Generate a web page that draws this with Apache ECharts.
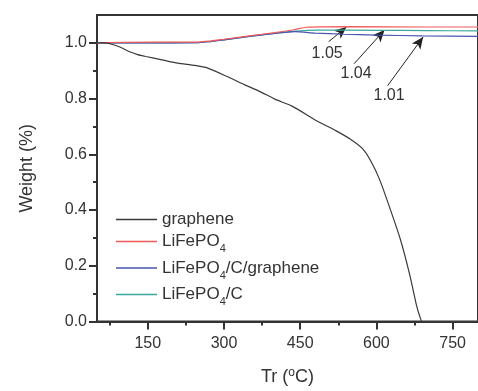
<!DOCTYPE html>
<html>
<head>
<meta charset="utf-8">
<script src="https://cdn.jsdelivr.net/npm/echarts@6/dist/echarts.min.js"></script>
<style>
  html, body { margin: 0; padding: 0; background: #fff; }
  #chart { width: 478px; height: 391px; }
</style>
</head>
<body>
<div id="chart"></div>
<script>
// temperature (°C) / weight fraction pairs
const graphene = [
  [50, 1.0], [65, 1.0], [79, 0.995], [95, 0.985], [113, 0.969], [130, 0.958],
  [146, 0.951], [178, 0.939], [209, 0.927], [242, 0.919], [267, 0.91],
  [305, 0.88], [340, 0.85], [370, 0.826], [400, 0.798], [434, 0.773],
  [484, 0.719], [520, 0.685], [549, 0.654], [574, 0.618], [589, 0.576],
  [606, 0.511], [625, 0.415], [647, 0.296], [666, 0.165], [679, 0.058],
  [686, 0.015], [690, 0], [800, 0]
];
const lfp = [
  [50, 1.0], [100, 1.002], [250, 1.003], [270, 1.006], [300, 1.013], [350, 1.025],
  [400, 1.037], [440, 1.048], [462, 1.056], [550, 1.058], [700, 1.057], [800, 1.057]
];
const lfpCGraphene = [
  [50, 1.0], [150, 1.0], [250, 1.001], [270, 1.004], [300, 1.011], [350, 1.023],
  [400, 1.034], [440, 1.04], [480, 1.035], [535, 1.031], [600, 1.028],
  [690, 1.025], [800, 1.023]
];
const lfpC = [
  [50, 1.0], [150, 1.0], [250, 1.001], [270, 1.004], [300, 1.011], [350, 1.023],
  [400, 1.034], [440, 1.042], [480, 1.046], [600, 1.045], [700, 1.044], [800, 1.043]
];

const seriesNames = ['graphene', 'LiFePO4', 'LiFePO4/C/graphene', 'LiFePO4/C'];
const seriesColors = ['#3a3a3a', '#ee5a5a', '#4a55b0', '#3aa89a'];

const xMajorTicks = [150, 300, 450, 600, 750];
const xMinorTicks = [75, 225, 375, 525, 675];
const yMajorTicks = [0, 0.2, 0.4, 0.6, 0.8, 1.0];
const yMinorTicks = [0.1, 0.3, 0.5, 0.7, 0.9];

// annotation arrows: [tail, head] and their labels
const arrows = [
  [[506, 1.004], [541, 1.057]],
  [[556, 0.925], [616, 1.046]],
  [[622, 0.846], [692, 1.021]]
];
const arrowLabels = [
  { text: '1.05', at: [503, 0.962] },
  { text: '1.04', at: [560, 0.891] },
  { text: '1.01', at: [625, 0.809] }
];

const font = '"Liberation Sans", Arial, sans-serif';
const axisColor = '#333';
const textColor = '#333';

const chart = echarts.init(document.getElementById('chart'), null, { renderer: 'canvas' });

const allData = [graphene, lfp, lfpCGraphene, lfpC];

chart.setOption({
  animation: false,
  backgroundColor: '#fff',
  grid: {
    left: 97,
    right: -10,
    top: 15,
    bottom: 68,
    show: true,
    borderColor: axisColor,
    borderWidth: 2
  },
  legend: {
    orient: 'vertical',
    left: 111,
    top: 206,
    icon: 'rect',
    itemWidth: 41,
    itemHeight: 1.4,
    itemGap: 5,
    data: seriesNames,
    formatter: (name) => name.replace('PO4', 'PO{sub|4}'),
    textStyle: {
      fontFamily: font,
      fontSize: 17,
      color: textColor,
      rich: {
        sub: { fontFamily: font, fontSize: 11, color: textColor, verticalAlign: 'top', padding: [15, 0, 0, 0] }
      }
    }
  },
  xAxis: [
    {
      type: 'value',
      min: 50,
      max: 800,
      position: 'bottom',
      name: 'Tr ({sup|o}C)',
      nameLocation: 'middle',
      nameGap: 45,
      nameTextStyle: {
        fontFamily: font,
        fontSize: 18,
        color: textColor,
        rich: {
          sup: { fontFamily: font, fontSize: 12, color: textColor, verticalAlign: 'bottom', padding: [0, 0, 9, 0] }
        }
      },
      splitLine: { show: false },
      axisLine: { show: true, lineStyle: { color: axisColor, width: 2 } },
      axisTick: { show: true, length: 8, customValues: xMajorTicks, lineStyle: { color: axisColor, width: 2 } },
      axisLabel: {
        customValues: xMajorTicks,
        margin: 14,
        fontFamily: font,
        fontSize: 16,
        color: textColor
      }
    },
    {
      type: 'value',
      min: 50,
      max: 800,
      position: 'bottom',
      splitLine: { show: false },
      axisLine: { show: false },
      axisTick: { show: true, length: 4, customValues: xMinorTicks, lineStyle: { color: axisColor, width: 2 } },
      axisLabel: { show: false }
    }
  ],
  yAxis: [
    {
      type: 'value',
      min: 0,
      max: 1.1,
      position: 'left',
      name: 'Weight (%)',
      nameLocation: 'middle',
      nameGap: 61,
      nameTextStyle: { fontFamily: font, fontSize: 18, color: textColor },
      splitLine: { show: false },
      axisLine: { show: true, lineStyle: { color: axisColor, width: 2 } },
      axisTick: { show: true, length: 8, customValues: yMajorTicks, lineStyle: { color: axisColor, width: 2 } },
      axisLabel: {
        customValues: yMajorTicks,
        margin: 10,
        fontFamily: font,
        fontSize: 16,
        color: textColor,
        formatter: (v) => v.toFixed(1)
      }
    },
    {
      type: 'value',
      min: 0,
      max: 1.1,
      position: 'left',
      splitLine: { show: false },
      axisLine: { show: false },
      axisTick: { show: true, length: 4, customValues: yMinorTicks, lineStyle: { color: axisColor, width: 2 } },
      axisLabel: { show: false }
    }
  ],
  series: seriesNames.map((name, i) => {
    const s = {
      type: 'line',
      name: name,
      data: allData[i],
      xAxisIndex: 0,
      yAxisIndex: 0,
      showSymbol: false,
      symbol: 'none',
      smooth: 0.2,
      color: seriesColors[i],
      lineStyle: { color: seriesColors[i], width: 1.2 },
      emphasis: { disabled: true },
      z: 10 - i
    };
    if (i === 0) {
      s.markLine = {
        silent: true,
        symbol: ['none', 'arrow'],
        symbolSize: [8, 12],
        lineStyle: { color: '#222', width: 1, type: 'solid' },
        label: { show: false },
        data: arrows.map((a) => [{ coord: a[0] }, { coord: a[1] }])
      };
      s.markPoint = {
        silent: true,
        symbol: 'rect',
        symbolSize: 0,
        label: {
          show: true,
          position: 'inside',
          fontFamily: font,
          fontSize: 16,
          color: textColor,
          formatter: (p) => p.name
        },
        data: arrowLabels.map((l) => ({ name: l.text, coord: l.at }))
      };
    }
    return s;
  })
});
</script>
</body>
</html>
